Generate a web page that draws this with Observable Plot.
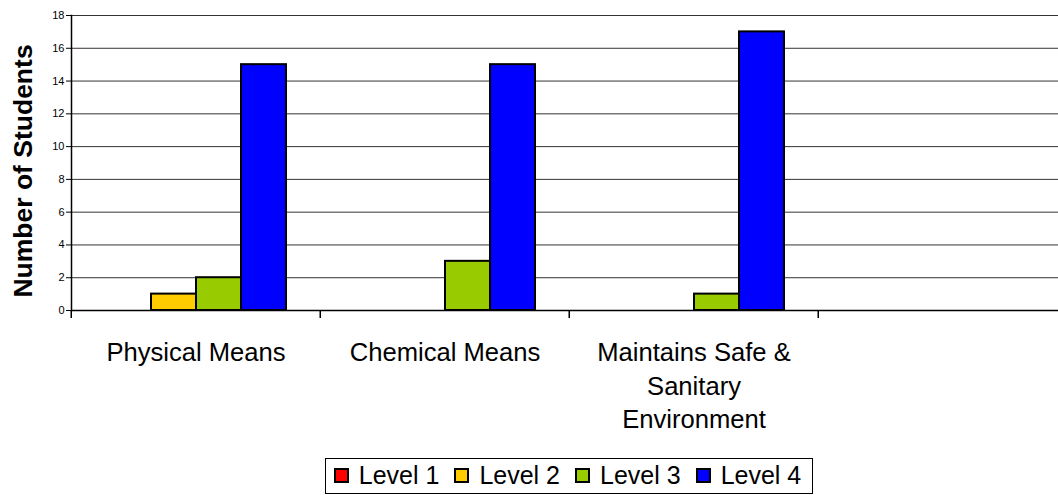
<!DOCTYPE html>
<html><head><meta charset="utf-8">
<script src="https://cdn.jsdelivr.net/npm/d3@7"></script>
<script src="https://cdn.jsdelivr.net/npm/@observablehq/plot@0.6"></script>
<style>
html,body{margin:0;padding:0;background:#fff;overflow:hidden;width:1058px;height:495px}
body{font-family:"Liberation Sans",Arial,sans-serif;position:relative}
#legendWrap{position:absolute;left:70px;top:458px;width:998px;text-align:center}
#legend{display:inline-flex;align-items:center;border:1px solid #000;padding:1px 9px 2px 8px;font-size:25px;line-height:31px;color:#000}
.item{display:flex;align-items:center;margin-right:15px}
.item:last-child{margin-right:2px}
.sw{width:11px;height:11px;border:2px solid #000;margin-right:10px}
</style></head><body><div id="chart"></div><div id="legendWrap"><div id="legend"></div></div>
<script>
const categories = ["Physical Means", "Chemical Means", "Maintains Safe &\nSanitary\nEnvironment", ""];
const levels = ["Level 1", "Level 2", "Level 3", "Level 4"];
const colors = ["#ff0000", "#ffcc00", "#99cc00", "#0000ff"];
const level1 = [0, 0, 0];
const level2 = [1, 0, 0];
const level3 = [2, 3, 1];
const level4 = [15, 15, 17];
const yTicks = [0, 2, 4, 6, 8, 10, 12, 14, 16, 18];
const yTitle = "Number of Students";

const series = [level1, level2, level3, level4];
const rows = [];
series.forEach((vals, li) => vals.forEach((v, ci) => rows.push({category: categories[ci], level: levels[li], value: v})));

const W = 1058, H = 440, ML = 70, MT = 15, MB = 130;
const fxRange = [ML, 1068];
const step = (fxRange[1] - fxRange[0]) / categories.length;

const chart = Plot.plot({
  width: W, height: H,
  marginLeft: ML, marginRight: 0, marginTop: MT, marginBottom: MB,
  style: {fontFamily: "'Liberation Sans', Arial, sans-serif", background: "white", color: "#000", overflow: "hidden"},
  fx: {domain: categories, range: fxRange, padding: 0, label: null},
  x: {domain: levels, paddingInner: 0, paddingOuter: 0.742, axis: null},
  y: {domain: [0, 18], label: null},
  color: {domain: levels, range: colors},
  marks: [
    Plot.gridY(yTicks, {stroke: "#000", strokeOpacity: 0.8, strokeWidth: 1}),
    Plot.barY(rows.filter(d => d.value > 0), {fx: "category", x: "level", y: "value", fill: "level", stroke: "#000", strokeWidth: 2}),
    Plot.ruleY(categories, {fx: d => d, y: () => 0, stroke: "#000", strokeWidth: 1.5}),
    Plot.frame({anchor: "left", fx: () => categories[0], stroke: "#000", strokeWidth: 1.5}),
    Plot.axisY(yTicks, {tickSize: 5, tickPadding: 2, fontSize: 11, label: null, stroke: "#000", fill: "#000"}),
    Plot.text([yTitle], {fx: () => categories[0], frameAnchor: "left", textAnchor: "middle", lineAnchor: "middle", rotate: -90, dx: -48, dy: 8, fontSize: 26.5, fontWeight: "bold", fill: "#000"}),
    Plot.axisFx({anchor: "bottom", tickSize: 0, tickPadding: 27, fontSize: 25.6, lineHeight: 1.31, label: null, fill: "#000"}),
    Plot.axisFx({anchor: "bottom", tickSize: 8, tickFormat: () => "", dx: -step / 2, label: null, stroke: "#000", strokeWidth: 1.5})
  ]
});
document.getElementById("chart").appendChild(chart);

const legend = d3.select("#legend");
levels.forEach((lv, i) => {
  const it = legend.append("div").attr("class", "item");
  it.append("div").attr("class", "sw").style("background", colors[i]);
  it.append("span").text(lv);
});
</script>
</body></html>
